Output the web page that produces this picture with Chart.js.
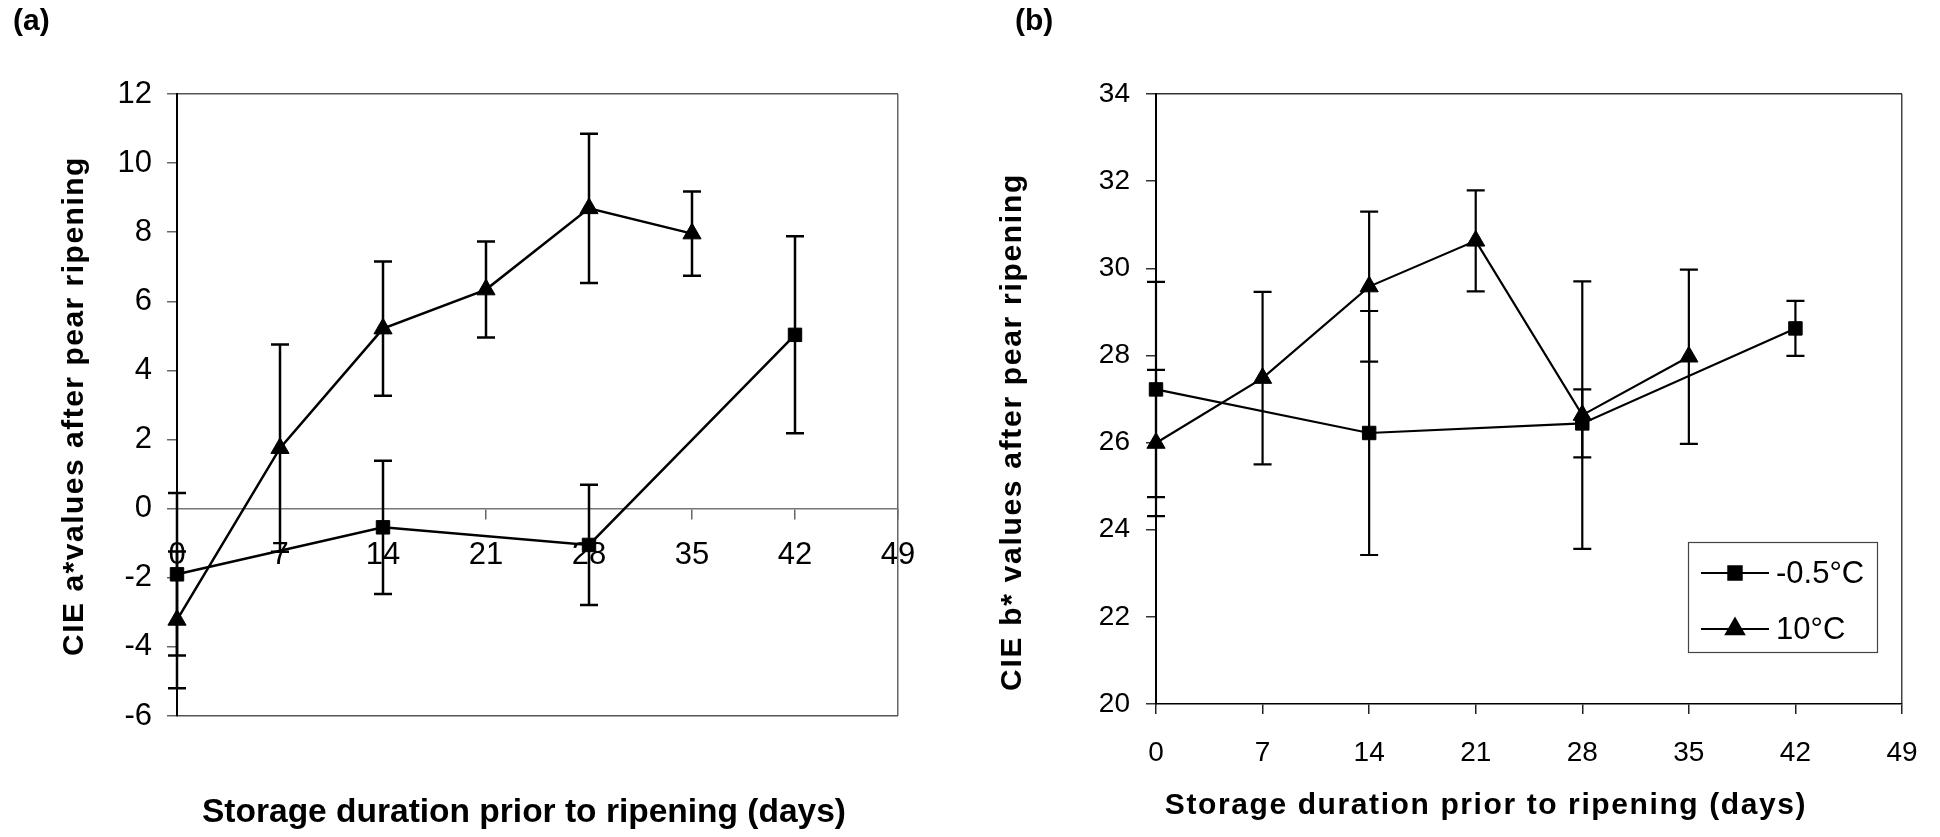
<!DOCTYPE html>
<html>
<head>
<meta charset="utf-8">
<title>CIE a* and b* values after pear ripening</title>
<script src="https://cdn.jsdelivr.net/npm/chart.js@4.4.1/dist/chart.umd.min.js"></script>
<style>
  html, body { margin: 0; padding: 0; background: #fff; }
  .panel { position: absolute; top: 0; }
  #panelA { left: 0; }
  #panelB { left: 970px; }
</style>
</head>
<body>
<canvas id="panelA" class="panel" width="970" height="837"></canvas>
<canvas id="panelB" class="panel" width="970" height="837"></canvas>
<script>
// storage days
const dayTicks = [0, 7, 14, 21, 28, 35, 42, 49];
const daysCold = [0, 14, 28, 42];          // -0.5°C
const daysWarm = [0, 7, 14, 21, 28, 35];   // 10°C

// (a) CIE a* values
const aCold = [-1.9, -0.54, -1.05, 5.03];
const aColdErr = [2.35, 1.93, 1.74, 2.85];
const aWarm = [-3.22, 1.75, 5.21, 6.34, 8.69, 7.96];
const aWarmErr = [1.98, 3.0, 1.94, 1.39, 2.16, 1.22];

// (b) CIE b* values
const bCold = [27.22, 26.22, 26.44, 28.62];
const bColdErr = [2.47, 2.8, 0.78, 0.63];
const bWarm = [25.99, 27.48, 29.58, 30.63, 26.63, 27.97];
const bWarmErr = [1.68, 1.98, 1.72, 1.16, 3.07, 2.0];

const seriesNames = ["-0.5°C", "10°C"];
const xTitle = "Storage duration prior to ripening (days)";

const FONT = '"Liberation Sans", Arial, sans-serif';
Chart.defaults.font.family = FONT;
Chart.defaults.color = '#000';

// narrow font for the x ticks of panel (a), if it is there
function hasFont(name) {
    const c = document.createElement('canvas').getContext('2d');
    c.font = '40px monospace';
    const w1 = c.measureText('0123456789abc').width;
    c.font = '40px "' + name + '", monospace';
    return c.measureText('0123456789abc').width !== w1;
}
const narrowOk = hasFont('Liberation Sans Narrow');
const aTickFont = narrowOk
    ? { family: '"Liberation Sans Narrow", ' + FONT, size: 35 }
    : { family: FONT, size: 31 };

function points(days, vals) {
    return days.map((d, i) => ({ x: d, y: vals[i] }));
}

const errorBars = {
    id: 'errorBars',
    beforeDatasetsDraw(chart) {
        const { ctx, scales: { x, y } } = chart;
        ctx.save();
        chart.data.datasets.forEach(ds => {
            if (!ds.errors) return;
            ctx.strokeStyle = '#000';
            ctx.lineWidth = ds.errorWidth || 2;
            ds.data.forEach((p, i) => {
                const e = ds.errors[i];
                const px = x.getPixelForValue(p.x);
                const top = y.getPixelForValue(p.y + e);
                const bot = y.getPixelForValue(p.y - e);
                ctx.beginPath();
                ctx.moveTo(px, top); ctx.lineTo(px, bot);
                ctx.moveTo(px - 9, top); ctx.lineTo(px + 9, top);
                ctx.moveTo(px - 9, bot); ctx.lineTo(px + 9, bot);
                ctx.stroke();
            });
        });
        ctx.restore();
    }
};

const textItems = {
    id: 'textItems',
    afterDraw(chart, args, opts) {
        const ctx = chart.ctx;
        (opts.items || []).forEach(t => {
            ctx.save();
            ctx.font = t.font;
            ctx.letterSpacing = (t.spacing || 0) + 'px';
            ctx.fillStyle = '#000';
            ctx.textAlign = t.align || 'center';
            ctx.textBaseline = 'alphabetic';
            ctx.translate(t.x, t.y);
            if (t.rotate) ctx.rotate(-Math.PI / 2);
            ctx.fillText(t.text, 0, 0);
            ctx.restore();
        });
    }
};

const boxLegend = {
    id: 'boxLegend',
    afterDraw(chart, args, opts) {
        if (!opts.show) return;
        const { ctx, chartArea } = chart;
        const left = chartArea.right - 214, top = chartArea.bottom - 162;
        ctx.save();
        ctx.fillStyle = '#fff';
        ctx.fillRect(left, top, 189, 110);
        ctx.strokeStyle = '#444';
        ctx.lineWidth = 1.2;
        ctx.strokeRect(left + 0.5, top + 0.5, 189, 110);
        chart.data.datasets.forEach((ds, i) => {
            const cy = top + 31 + i * 56;
            ctx.strokeStyle = '#000';
            ctx.fillStyle = '#000';
            ctx.lineWidth = 2;
            ctx.beginPath();
            ctx.moveTo(left + 13, cy); ctx.lineTo(left + 81, cy);
            ctx.stroke();
            Chart.helpers.drawPoint(ctx, {
                pointStyle: ds.pointStyle, radius: ds.pointRadius,
                borderWidth: 1, rotation: 0
            }, left + 47, cy);
            ctx.font = '31px ' + FONT;
            ctx.textBaseline = 'middle';
            ctx.textAlign = 'left';
            ctx.fillText(ds.label, left + 88, cy + 1);
        });
        ctx.restore();
    }
};

function makeDatasets(coldVals, coldErr, warmVals, warmErr, lw) {
    const base = {
        borderColor: '#000', backgroundColor: '#000',
        pointBorderColor: '#000', pointBackgroundColor: '#000',
        borderWidth: lw, pointBorderWidth: 1, clip: false,
        errorWidth: lw, tension: 0, showLine: true
    };
    return [
        Object.assign({}, base, {
            label: seriesNames[0], data: points(daysCold, coldVals), errors: coldErr,
            pointStyle: 'rect', pointRadius: 9.5
        }),
        Object.assign({}, base, {
            label: seriesNames[1], data: points(daysWarm, warmVals), errors: warmErr,
            pointStyle: 'triangle', pointRadius: 10.5
        })
    ];
}

function edgeColor(values, col) {
    return ctx => (ctx.tick && values.includes(ctx.tick.value)) ? col : 'rgba(0,0,0,0)';
}

// panel (a)
new Chart(document.getElementById('panelA'), {
    type: 'scatter',
    data: { datasets: makeDatasets(aCold, aColdErr, aWarm, aWarmErr, 2.5) },
    options: {
        responsive: false, animation: false, devicePixelRatio: 1,
        layout: { padding: { top: 94, right: 72, bottom: 121, left: 0 } },
        plugins: {
            legend: { display: false }, tooltip: { enabled: false },
            textItems: { items: [
                { text: '(a)', font: 'bold 30px ' + FONT, x: 13, y: 30, align: 'left' },
                { text: 'CIE a*values after pear ripening', font: 'bold 30px ' + FONT,
                  spacing: 1.5, x: 83, y: 406, rotate: true },
                { text: xTitle, font: 'bold 33.5px ' + FONT, x: 524, y: 822 }
            ] },
            boxLegend: { show: false }
        },
        scales: {
            x: {
                type: 'linear', position: { y: 0 }, min: 0, max: 49,
                afterBuildTicks: s => { s.ticks = dayTicks.map(v => ({ value: v })); },
                ticks: { autoSkip: false, maxRotation: 0, padding: 18, font: aTickFont },
                grid: { color: edgeColor([49], '#666'), tickColor: '#666', tickLength: 10, lineWidth: 1.5 },
                border: { color: '#777', width: 1.5 }
            },
            y: {
                min: -6, max: 12,
                afterFit: s => { s.width = 177; },
                ticks: { stepSize: 2, padding: 15, font: { size: 31 } },
                grid: { color: edgeColor([12, -6], '#555'), tickColor: '#666', tickLength: 10, lineWidth: 1.5 },
                border: { color: '#000', width: 2 }
            }
        }
    },
    plugins: [errorBars, textItems, boxLegend]
});

// panel (b)
new Chart(document.getElementById('panelB'), {
    type: 'scatter',
    data: { datasets: makeDatasets(bCold, bColdErr, bWarm, bWarmErr, 2.2) },
    options: {
        responsive: false, animation: false, devicePixelRatio: 1,
        layout: { padding: { top: 94, right: 38, bottom: 0, left: 0 } },
        plugins: {
            legend: { display: false }, tooltip: { enabled: false },
            textItems: { items: [
                { text: '(b)', font: 'bold 30px ' + FONT, x: 45, y: 30, align: 'left' },
                { text: 'CIE b* values after pear ripening', font: 'bold 30px ' + FONT,
                  spacing: 1.7, x: 51, y: 432, rotate: true },
                { text: xTitle, font: 'bold 30px ' + FONT, spacing: 1.6, x: 516, y: 814 }
            ] },
            boxLegend: { show: true }
        },
        scales: {
            x: {
                type: 'linear', position: 'bottom', min: 0, max: 49,
                afterFit: s => { s.height = 133; },
                afterBuildTicks: s => { s.ticks = dayTicks.map(v => ({ value: v })); },
                ticks: { autoSkip: false, maxRotation: 0, padding: 22, font: { size: 28 } },
                grid: { color: edgeColor([49], '#444'), tickColor: '#222', tickLength: 10, lineWidth: 1.5 },
                border: { color: '#000', width: 1.5 }
            },
            y: {
                min: 20, max: 34,
                afterFit: s => { s.width = 186; },
                ticks: { stepSize: 2, padding: 16, font: { size: 28 } },
                grid: { color: edgeColor([34], '#333'), tickColor: '#333', tickLength: 10, lineWidth: 1.5 },
                border: { color: '#000', width: 2 }
            }
        }
    },
    plugins: [errorBars, textItems, boxLegend]
});
</script>
</body>
</html>
